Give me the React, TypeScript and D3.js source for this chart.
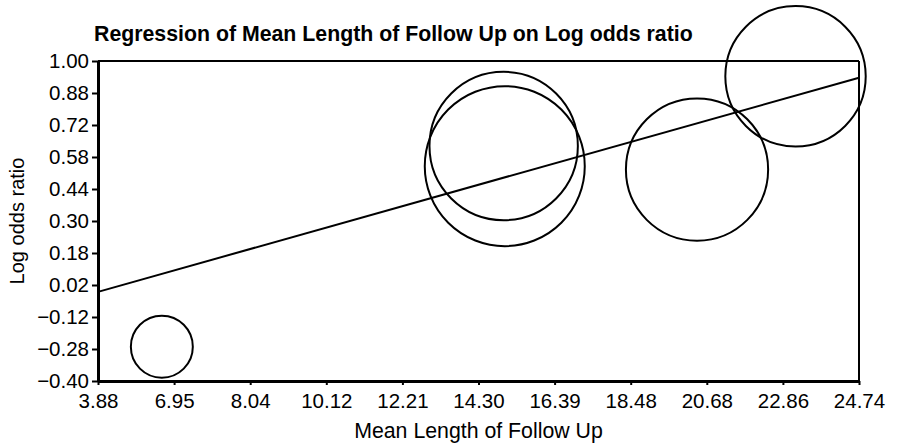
import React, { useEffect, useRef } from 'react';
import * as d3 from 'd3';

// tick labels as printed on the original chart (evenly spaced)
const xTickLabels = ['3.88', '6.95', '8.04', '10.12', '12.21', '14.30', '16.39', '18.48', '20.68', '22.86', '24.74'];
const yTickLabels = ['\u22120.40', '\u22120.28', '\u22120.12', '0.02', '0.18', '0.30', '0.44', '0.58', '0.72', '0.88', '1.00'];

// studies: mean follow up, log odds ratio, weight (bubble area)
const studyX = [5.63, 15.0, 15.03, 20.3, 23.0];
const studyY = [-0.25, 0.628, 0.54, 0.525, 0.933];
const studyWeight = [15, 86, 100, 79, 77];

// fitted regression line endpoints
const fitX = [3.88, 24.74];
const fitY = [-0.01, 0.927];

const W = 904;
const H = 448;
const FONT = '"Liberation Sans", Arial, Helvetica, sans-serif';

const App: React.FC = () => {
  const svgRef = useRef<SVGSVGElement>(null);

  useEffect(() => {
    if (!svgRef.current) return;
    const svg = d3.select(svgRef.current);
    svg.selectAll('*').remove();

    const margin = { top: 61, right: 45, bottom: 67, left: 98 };
    const width = W - margin.left - margin.right;
    const height = H - margin.top - margin.bottom;

    const x = d3.scaleLinear().domain([3.88, 24.74]).range([0, width]);
    const y = d3.scaleLinear().domain([-0.4, 1.0]).range([height, 0]);
    const r = d3.scaleSqrt().domain([0, 100]).range([0, 80]);

    const xTicks = d3.range(xTickLabels.length).map(i => 3.88 + (i * (24.74 - 3.88)) / (xTickLabels.length - 1));
    const yTicks = d3.range(yTickLabels.length).map(i => -0.4 + (i * 1.4) / (yTickLabels.length - 1));

    const chart = svg.append('g').attr('transform', `translate(${margin.left},${margin.top})`);

    // top and right frame
    chart.append('line')
      .attr('x1', 0).attr('x2', width).attr('y1', 0).attr('y2', 0)
      .attr('stroke', '#000').attr('stroke-width', 2.2);
    chart.append('line')
      .attr('x1', width).attr('x2', width).attr('y1', 0).attr('y2', height)
      .attr('stroke', '#000').attr('stroke-width', 2);

    const xAxis = chart.append('g')
      .attr('transform', `translate(0,${height})`)
      .call(d3.axisBottom(x).tickValues(xTicks).tickFormat((_, i) => xTickLabels[i]).tickSize(4).tickSizeOuter(0));
    xAxis.select('.domain').attr('stroke-width', 3);
    xAxis.selectAll('.tick line').attr('stroke-width', 2);
    xAxis.selectAll('.tick text')
      .attr('font-family', FONT).attr('font-size', 20.5).attr('fill', '#000')
      .attr('dy', null).attr('y', 27);

    const yAxis = chart.append('g')
      .call(d3.axisLeft(y).tickValues(yTicks).tickFormat((_, i) => yTickLabels[i]).tickSize(6).tickSizeOuter(0));
    yAxis.select('.domain').attr('stroke-width', 3);
    yAxis.selectAll('.tick line').attr('stroke-width', 2);
    yAxis.selectAll('.tick text')
      .attr('font-family', FONT).attr('font-size', 20.5).attr('fill', '#000')
      .attr('x', -9).attr('dy', '0.34em');

    // regression line
    const line = d3.line<number>()
      .x((_, i) => x(fitX[i]))
      .y(d => y(d));
    chart.append('path')
      .datum(fitY)
      .attr('d', line)
      .attr('fill', 'none')
      .attr('stroke', '#000')
      .attr('stroke-width', 2);

    // study bubbles
    chart.append('g')
      .selectAll('circle')
      .data(studyX)
      .join('circle')
      .attr('cx', d => x(d))
      .attr('cy', (_, i) => y(studyY[i]))
      .attr('r', (_, i) => r(studyWeight[i]))
      .attr('fill', 'none')
      .attr('stroke', '#000')
      .attr('stroke-width', 2);

    // titles
    svg.append('text')
      .attr('x', 94).attr('y', 41)
      .attr('font-family', FONT).attr('font-size', 21.3).attr('font-weight', 'bold')
      .text('Regression of Mean Length of Follow Up on Log odds ratio');

    svg.append('text')
      .attr('x', margin.left + width / 2).attr('y', 438)
      .attr('text-anchor', 'middle')
      .attr('font-family', FONT).attr('font-size', 21.3)
      .text('Mean Length of Follow Up');

    svg.append('text')
      .attr('transform', `translate(24,${margin.top + height / 2}) rotate(-90)`)
      .attr('text-anchor', 'middle')
      .attr('font-family', FONT).attr('font-size', 20)
      .text('Log odds ratio');
  }, []);

  return (
    <svg
      ref={svgRef}
      width={W}
      height={H}
      style={{ position: 'absolute', left: 0, top: 0, background: '#fff' }}
    ></svg>
  );
};

export default App;
